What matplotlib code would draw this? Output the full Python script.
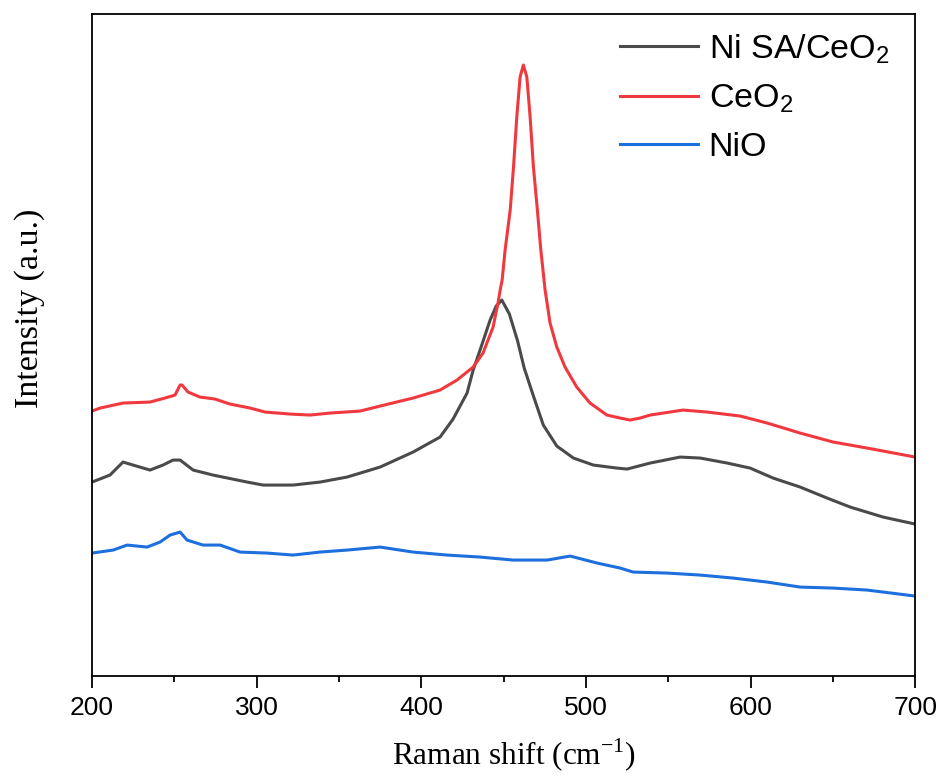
import matplotlib
matplotlib.use("Agg")
import matplotlib.pyplot as plt
from matplotlib.ticker import MultipleLocator

# Raman spectra, intensity in arbitrary units (offset stacked)
x_nisa = [200, 210.9, 218.8, 224.9, 235.2, 243.1, 249.2, 253.5, 261.4, 273.5,
          294.2, 303.9, 322.1, 338.5, 354.9, 375.0, 395.0, 411.4, 419.3, 427.8,
          431.5, 435.7, 441.8, 445.5, 448.9, 453.5, 458.5, 462.5, 467.9, 474.1,
          482.3, 492.4, 504.5, 518.7, 525.0, 539.0, 557.2, 569.4, 585.8, 599.7,
          613.7, 630.1, 646.5, 660.5, 680.5, 700]
y_nisa = [194, 201, 214, 211, 206, 211, 216, 216, 206, 201,
          194, 191, 191, 194, 199, 209, 224, 239, 257, 283,
          306, 326, 356, 370, 376, 362, 335, 308, 281, 251,
          230, 218, 211, 208, 207, 213, 219, 218, 213, 208,
          198, 189, 178, 169, 159, 152]

x_ceo2 = [200, 204.9, 218.8, 235.2, 244.3, 250.4, 253.5, 254.7, 258.3, 265.6,
          274.7, 283.8, 296.0, 305.1, 320.3, 332.4, 344.6, 362.8, 375.0, 395.0,
          411.4, 421.7, 431.5, 437.5, 443.6, 446.6, 447.9, 449.1, 450.9, 454.0,
          456.0, 458.0, 460.0, 462.0, 464.1, 466.1, 468.1, 470.5, 472.6, 475.2,
          478.2, 482.3, 487.3, 494.4, 502.5, 512.7, 520.8, 526.8, 532.9, 539.0,
          559.0, 573.6, 593.7, 610.1, 630.1, 650.2, 670.8, 700]
y_ceo2 = [265, 268, 273, 274, 278, 281, 291, 291, 284, 279,
          277, 272, 268, 264, 262, 261, 263, 265, 270, 278,
          286, 296, 309, 323, 349, 373, 386, 396, 426, 466,
          509, 559, 599, 611, 599, 559, 509, 466, 426, 386,
          353, 329, 309, 289, 273, 261, 258, 256, 258, 261,
          266, 264, 260, 253, 243, 234, 228, 219]

x_nio = [200, 212.8, 221.3, 233.4, 241.3, 247.4, 253.5, 257.7, 267.4, 277.8,
         289.9, 306.3, 322.1, 338.5, 354.9, 375.0, 395.0, 415.7, 435.7, 455.8,
         476.4, 490.4, 506.8, 520.8, 528.7, 549.3, 569.4, 589.4, 610.1, 630.1,
         650.2, 670.8, 700]
y_nio = [123, 126, 131, 129, 134, 141, 144, 136, 131, 131,
         124, 123, 121, 124, 126, 129, 124, 121, 119, 116,
         116, 120, 113, 108, 104, 103, 101, 98, 94, 89,
         88, 86, 80]

labels = ["Ni SA/CeO$_\\mathregular{2}$", "CeO$_\\mathregular{2}$", "NiO"]
colors = ["#4a4a4a", "#f0393e", "#1c6fdc"]

fig = plt.figure(figsize=(9.44, 7.78), dpi=100)
ax = fig.add_axes([0.0975, 0.131, 0.872, 0.851])

ax.plot(x_nisa, y_nisa, color=colors[0], lw=2.2, label=labels[0])
ax.plot(x_ceo2, y_ceo2, color=colors[1], lw=2.2, label=labels[1])
ax.plot(x_nio, y_nio, color=colors[2], lw=2.2, label=labels[2])

ax.set_xlim(200, 700)
ax.set_ylim(0, 662)
ax.xaxis.set_major_locator(MultipleLocator(100))
ax.xaxis.set_minor_locator(MultipleLocator(50))
ax.set_yticks([])
ax.tick_params(axis='x', which='major', direction='out', length=8.5, width=1.3,
               labelsize=19, pad=6)
ax.tick_params(axis='x', which='minor', direction='out', length=4.5, width=1.3)
for lbl in ax.get_xticklabels():
    lbl.set_family("Liberation Sans")
for s in ax.spines.values():
    s.set_linewidth(1.3)

ax.set_xlabel("Raman shift (cm$^\\mathregular{-1}$)", family="Liberation Serif",
              fontsize=22.5)
ax.xaxis.set_label_coords(0.513, -0.092)
ax.set_ylabel("Intensity (a.u.)", family="Liberation Serif", fontsize=24.5)
ax.yaxis.set_label_coords(-0.057, 0.556)

ax.legend(loc="upper left", bbox_to_anchor=(0.6416, 0.973), frameon=False,
          handlelength=2.3, handletextpad=0.3, labelspacing=0.5,
          borderpad=0, borderaxespad=0,
          prop={"family": "Liberation Sans", "size": 24.5})

fig.savefig("out.png", dpi=100)
